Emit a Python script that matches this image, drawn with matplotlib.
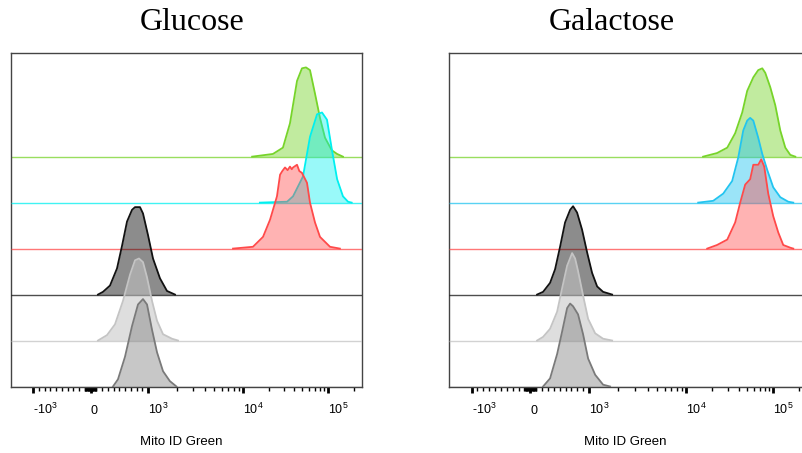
import numpy as np
import matplotlib.pyplot as plt

plt.rcParams['font.family'] = ['Liberation Sans', 'DejaVu Sans']
plt.rcParams['mathtext.default'] = 'regular'

# FlowJo-style biex axis: linear within +-1000, log above.
# anchor steps (-1 = -10^3, 0 = 0, 1 = 10^3, 2 = 10^4 ...) and their px from the panel edge
BIEX_STEPS = [-2, -1, 0, 1, 2, 3, 4]
BIEX_PX = [-73, 22, 79.5, 137, 232, 317, 402]


def _steps(v):
    v = np.asarray(v, dtype=float)
    a = np.abs(v)
    return np.where(a <= 1000, v / 1000,
                    np.sign(v) * (1 + np.log10(np.maximum(a, 1000) / 1000)))


def biex(v):
    return np.interp(_steps(v), BIEX_STEPS, BIEX_PX)


def biex_inv(p):
    s = np.interp(np.asarray(p, dtype=float), BIEX_PX, BIEX_STEPS)
    a = np.abs(s)
    return np.where(a <= 1, s * 1000, np.sign(s) * 1000 * 10 ** (np.maximum(a, 1) - 1))


titles = ['Glucose', 'Galactose']
xlabel = 'Mito ID Green'
major_ticks = [-1000, 0, 1000, 10000, 100000]
major_labels = ['-$10^3$', '0', '$10^3$', '$10^4$', '$10^5$']

# histograms, % of mode, top row -> bottom row
# Glucose
glc_green_x = [12800, 22500, 29500, 35700, 43200, 49400, 55100, 61400, 70300, 80500, 92200, 111000, 128000, 150000]
glc_green_y = [0, 3, 10, 37, 84, 98, 99, 96, 70, 43, 21, 7, 3, 0]
glc_cyan_x = [15800, 33000, 38800, 50800, 61400, 74300, 85000, 97300, 111000, 128000, 150000, 172000, 190000]
glc_cyan_y = [0, 1, 7, 29, 73, 98, 100, 92, 59, 26, 7, 1, 0]
glc_red_x = [7850, 13100, 17200, 20800, 25100, 27300, 29000, 31200, 33500, 35700, 37500, 38800, 43200, 46000,
             49400, 56600, 61400, 70300, 80500, 105600, 138000]
glc_red_y = [0, 2, 13, 32, 58, 82, 86, 90, 87, 91, 88, 90, 93, 86, 84, 73, 51, 29, 13, 2, 0]
glc_black_x = [130, 217, 339, 461, 548, 635, 722, 774, 861, 913, 1000, 1129, 1337, 1585, 1924]
glc_black_y = [0, 3, 10, 29, 54, 81, 94, 97, 97, 90, 66, 40, 18, 4, 0]
glc_ltgrey_x = [130, 287, 426, 565, 687, 774, 843, 913, 983, 1102, 1244, 1439, 1790, 2070]
glc_ltgrey_y = [0, 6, 18, 44, 73, 89, 91, 87, 70, 44, 22, 7, 2, 0]
glc_grey_x = [391, 478, 600, 722, 826, 913, 983, 1102, 1244, 1439, 1698, 1993]
glc_grey_y = [0, 8, 33, 67, 91, 97, 91, 63, 38, 17, 6, 0]

# Galactose
gal_green_x = [15600, 22600, 29600, 36500, 44000, 50200, 59000, 67200, 74800, 81000, 92500, 105600, 120600,
               137700, 157000, 179500]
gal_green_y = [0, 4, 10, 26, 49, 73, 88, 96, 98, 93, 77, 57, 29, 10, 2, 0]
gal_cyan_x = [13700, 20400, 26600, 33700, 39600, 45200, 50200, 54300, 59000, 67200, 74800, 85500, 100000,
              120600, 148900, 170100]
gal_cyan_y = [0, 2, 10, 24, 50, 80, 91, 94, 91, 72, 54, 36, 17, 6, 1, 0]
gal_red_x = [17400, 22600, 29600, 36500, 41700, 47600, 54300, 59000, 67200, 72800, 78800, 87600, 100000,
             114200, 130400, 157000, 170100]
gal_red_y = [0, 4, 10, 29, 51, 71, 77, 93, 93, 99, 91, 61, 36, 18, 4, 1, 0]
gal_black_x = [115, 217, 336, 421, 506, 591, 677, 727, 795, 880, 965, 1073, 1209, 1393, 1725]
gal_black_y = [0, 3, 13, 28, 53, 80, 94, 98, 91, 72, 47, 24, 9, 3, 0]
gal_ltgrey_x = [115, 217, 336, 456, 541, 626, 711, 762, 812, 897, 983, 1154, 1393, 1725]
gal_ltgrey_y = [0, 4, 13, 32, 58, 83, 97, 91, 77, 50, 24, 8, 2, 0]
gal_grey_x = [217, 336, 456, 541, 626, 677, 727, 812, 897, 983, 1154, 1393, 1644]
gal_grey_y = [0, 9, 36, 61, 87, 92, 89, 80, 58, 31, 13, 2, 0]

panel_rows = [
    [(glc_green_x, glc_green_y), (glc_cyan_x, glc_cyan_y), (glc_red_x, glc_red_y),
     (glc_black_x, glc_black_y), (glc_ltgrey_x, glc_ltgrey_y), (glc_grey_x, glc_grey_y)],
    [(gal_green_x, gal_green_y), (gal_cyan_x, gal_cyan_y), (gal_red_x, gal_red_y),
     (gal_black_x, gal_black_y), (gal_ltgrey_x, gal_ltgrey_y), (gal_grey_x, gal_grey_y)],
]

# (line colour, fill colour, fill alpha) per row
row_styles = [
    [('#77d42a', '#77d42a', 0.45), ('#00f0f0', '#00f0f0', 0.4), ('#ff4a4a', '#ff4a4a', 0.42),
     ('#111111', '#000000', 0.45), ('#c4c4c4', '#c4c4c4', 0.55), ('#7a7a7a', '#7a7a7a', 0.42)],
    [('#77d42a', '#77d42a', 0.45), ('#22c4f0', '#22c4f0', 0.45), ('#ff4a4a', '#ff4a4a', 0.42),
     ('#111111', '#000000', 0.45), ('#c4c4c4', '#c4c4c4', 0.55), ('#7a7a7a', '#7a7a7a', 0.42)],
]

ROW = 51       # vertical offset between stacked histograms (in % of mode)
YTOP = 370

W, H = 802, 453
fig = plt.figure(figsize=(W / 100, H / 100), dpi=100)

# axes boxes in px: left, width (right panel runs past the image edge)
boxes = [(11, 351), (449, 359)]
top_px, bot_px = 53, 386.5
label_x = [181, 625]
title_x = [192, 612]

minor = ([-900 + 100 * k for k in range(9)] + [100 * k for k in range(1, 10)]
         + [-90 + 10 * k for k in range(9)] + [10 * k for k in range(1, 10)]
         + [1000 * k for k in range(2, 10)] + [10000 * k for k in range(2, 10)] + [200000])

for p in range(2):
    x0, w = boxes[p]
    ax = fig.add_axes([x0 / W, 1 - bot_px / H, w / W, (bot_px - top_px) / H])
    ax.set_xscale('function', functions=(biex, biex_inv))
    xmin, xmax = float(biex_inv(0)), float(biex_inv(351))
    ax.set_xlim(xmin, xmax)
    ax.set_ylim(0, YTOP)

    nrows = len(panel_rows[p])
    for i, (xs, ys) in enumerate(panel_rows[p]):
        base = (nrows - 1 - i) * ROW
        lc, fc, fa = row_styles[p][i]
        z = 2 + i
        ys = np.array(ys, dtype=float)
        ax.plot([xmin, xmax], [base, base], color=lc, lw=1.0, alpha=0.75, zorder=z,
                solid_capstyle='butt')
        ax.fill_between(xs, base, base + ys, color=fc, alpha=fa, lw=0, zorder=z)
        ax.plot(xs, base + ys, color=lc, lw=1.3, zorder=z + 0.1)

    ax.set_yticks([])
    ax.set_xticks(major_ticks)
    ax.set_xticklabels(major_labels, fontsize=9, ha='left', va='baseline')
    ax.set_xticks(minor, minor=True)
    ax.tick_params(axis='x', which='major', length=4.5, width=2.0, pad=15, direction='out')
    ax.tick_params(axis='x', which='minor', length=3, width=1.0, direction='out')
    for s in ax.spines.values():
        s.set_color('#444444')
        s.set_linewidth(1.0)

    ax.set_xlabel(xlabel, fontsize=9.5)
    ax.xaxis.set_label_coords((label_x[p] - x0) / w, -(436 - bot_px) / (bot_px - top_px))
    fig.text(title_x[p] / W, 1 - 23 / H, titles[p], ha='center', va='center',
             fontsize=23, family=['Liberation Serif', 'DejaVu Serif'])

fig.savefig('out.png', dpi=100)
